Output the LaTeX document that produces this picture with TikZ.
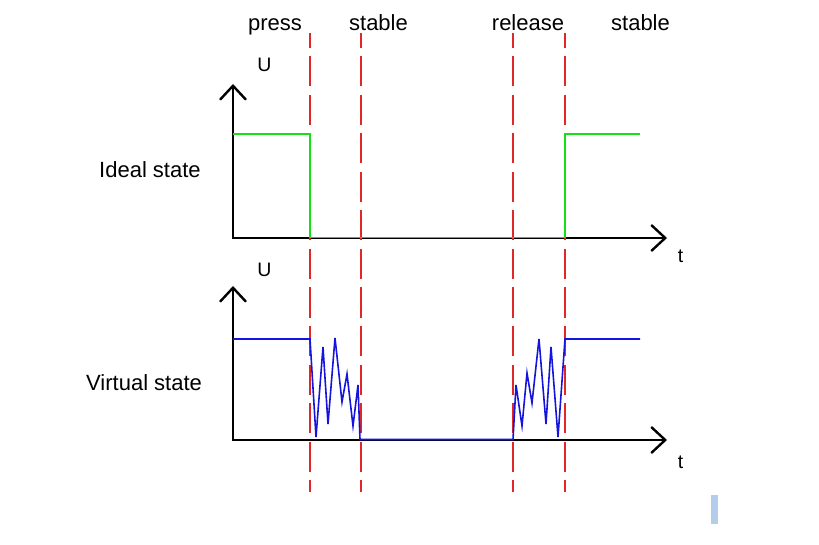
\documentclass[tikz,border=0pt]{standalone}
\usepackage{fontspec}
\setmainfont{Liberation Sans}
\usetikzlibrary{arrows.meta}
\definecolor{dashred}{RGB}{225,40,40}
\definecolor{idealgreen}{RGB}{20,225,20}
\definecolor{virtblue}{RGB}{20,20,220}
\definecolor{markblue}{RGB}{180,205,234}
\tikzset{
  axis/.style={line width=2.4pt, -{Straight Barb[length=14pt,width=26pt,line width=2.4pt]}},
  marker/.style={dashred, line width=1.5pt, dash pattern=on 30pt off 8.5pt, dash phase=15pt},
  idealsig/.style={idealgreen, line width=1.5pt},
  virtsig/.style={virtblue, line width=1.6pt, line join=miter},
  phase/.style={inner sep=0pt, anchor=base, font=\fontsize{22}{26}\selectfont},
  rowlbl/.style={inner sep=0pt, anchor=base west, font=\fontsize{22}{26}\selectfont},
  axlbl/.style={inner sep=0pt, anchor=base, font=\fontsize{19.5}{23}\selectfont}
}
\begin{document}
\begin{tikzpicture}[x=1pt,y=-1pt]
\useasboundingbox (0,0) rectangle (819,545);
% phase labels
\node[phase] (lpress) at (275,31) {press};
\node[phase] (lstable1) at (378.5,31) {stable};
\node[phase] (lrelease) at (528,31) {release};
\node[phase] (lstable2) at (640.5,31) {stable};
% row labels
\node[rowlbl] (lideal) at (99,178) {Ideal state};
\node[rowlbl] (lvirt) at (86,390) {Virtual state};
% axis labels
\node[axlbl] (u1) at (264.5,72) {U};
\node[axlbl] (u2) at (264.5,277) {U};
\node[axlbl] (t1) at (680.5,263) {t};
\node[axlbl] (t2) at (680.5,468) {t};
% axes
\coordinate (o1) at (233,238);
\coordinate (y1) at (233,84);
\coordinate (x1) at (667,238);
\coordinate (o2) at (233,440);
\coordinate (y2) at (233,286);
\coordinate (x2) at (667,440);
\draw[axis] (o1) -- (y1);
\draw[axis] ([xshift=-1.2pt]o1) -- (x1);
\draw[axis] (o2) -- (y2);
\draw[axis] ([xshift=-1.2pt]o2) -- (x2);
% markers
\foreach \mx in {310,361,513,565}{
  \draw[marker] (\mx,33) -- (\mx,492);
}
% ideal signal
\draw[idealsig] (233,134) -- (310,134) -- (310,237.5) -- (565,237.5) -- (565,134) -- (640,134);
% virtual signal
\draw[virtsig] (233,339) -- (310,339) -- (316,437) -- (323,347) -- (328,424) -- (335,338)
  -- (342,402) -- (347,374) -- (353,426) -- (358,385) -- (360,439.5) -- (513,439.5)
  -- (516,385) -- (522,426) -- (527,373) -- (532,403) -- (539,339) -- (546,424)
  -- (551,347) -- (558,437) -- (565,339) -- (640,339);
% small mark
\fill[markblue] (711,495) rectangle (717.5,524);
\end{tikzpicture}
\end{document}
